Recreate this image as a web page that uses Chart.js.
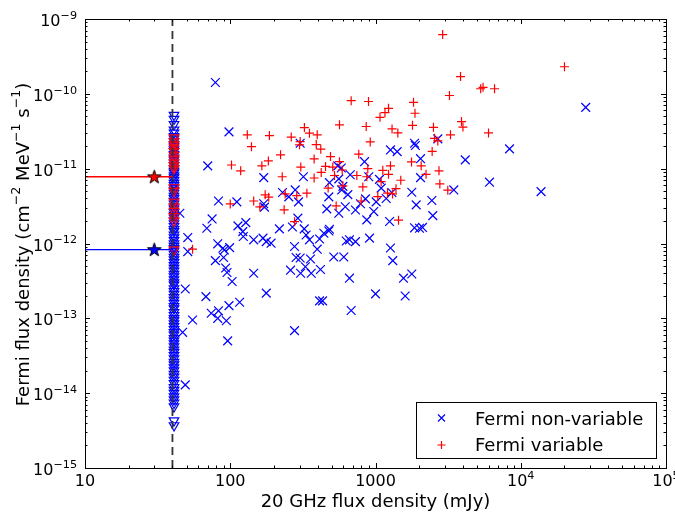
<!DOCTYPE html>
<html>
<head>
<meta charset="utf-8">
<script src="https://cdn.jsdelivr.net/npm/chart.js@4.4.0/dist/chart.umd.min.js"></script>
<style>
  html, body { margin: 0; padding: 0; background: #fff; }
</style>
</head>
<body>
<canvas id="chart" width="675" height="513"></canvas>
<script>
// --- AXES ---
const X_MIN = 10, X_MAX = 1e5;
const Y_MIN = 1e-15, Y_MAX = 1e-9;
const xTicks = [10, 100, 1000, 1e4, 1e5];
const xTickLabels = ['10', '100', '1000', '10^4', '10^5'];
const yTicks = [1e-15, 1e-14, 1e-13, 1e-12, 1e-11, 1e-10, 1e-9];
const yTickLabels = ['10^\u221215', '10^\u221214', '10^\u221213', '10^\u221212', '10^\u221211', '10^\u221210', '10^\u22129'];

// --- DATA ---
// Fermi non-variable sources (20 GHz flux in mJy, Fermi flux density)
const nonVarS = [79, 28000, 98, 70, 170, 83, 111, 170, 172, 45, 75, 128, 69, 113, 229, 218,
  303, 840, 550, 581, 319, 670, 899, 1065, 482, 559, 596, 585, 1094, 280, 253, 295, 477, 645,
  853, 1011, 1185, 462, 619, 559, 728, 788, 973, 292, 871, 323, 482, 268, 1250,
  1857, 1880, 1268, 1410, 2685, 4150, 2042, 2042, 6095, 3460, 1778, 1295, 1906, 2443, 2480,
  1857, 2009, 2107, 8370, 13800, 1268, 1315, 1559, 1778, 1601,
  51, 51, 122, 123, 82, 89, 91, 99, 90, 79, 93, 95, 103, 145, 145, 168, 177, 191,
  49, 68, 177, 116, 98, 74, 83, 82, 94, 55, 47, 96, 49,
  333, 351, 441, 477, 412, 629, 662, 728, 910, 277, 397, 284, 303, 357, 516, 605,
  329, 260, 305, 361, 418, 662, 1000, 412, 432, 680, 277];
const nonVarF = [1.42e-10, 6.6e-11, 3.1e-11, 1.09e-11, 7.6e-12, 3.7e-12, 3.6e-12, 3.4e-12, 3.06e-12, 2.54e-12, 2.13e-12, 1.9e-12, 1.6e-12, 1.72e-12, 4.8e-12, 1.57e-12,
  2.19e-11, 1.24e-11, 1.09e-11, 1.02e-11, 7.8e-12, 8.3e-12, 7.8e-12, 7.2e-12, 6.5e-12, 7.3e-12, 5.8e-12, 5.2e-12, 5.5e-12, 5.2e-12, 4.2e-12, 3.6e-12, 4.2e-12, 4.5e-12,
  3.95e-12, 3.6e-12, 4.0e-12, 2.9e-12, 3.1e-12, 2.54e-12, 2.8e-12, 3.4e-12, 2.67e-12, 2.18e-12, 2.07e-12, 1.57e-12, 1.55e-12, 1.66e-12, 1.97e-12,
  2.19e-11, 2.04e-11, 1.78e-11, 1.69e-11, 2.5e-11, 1.31e-11, 1.36e-11, 7.6e-12, 6.6e-12, 5.2e-12, 4.85e-12, 4.8e-12, 3.28e-12, 3.75e-12, 2.36e-12,
  1.62e-12, 1.6e-12, 1.64e-12, 1.84e-11, 4.94e-12, 8.7e-13, 5.9e-13, 3.44e-13, 3.92e-13, 1.99e-13,
  1.2e-12, 7.8e-13, 1.44e-12, 1.24e-12, 9.9e-13, 8.65e-13, 8.2e-13, 8.8e-13, 6.5e-13, 5.9e-13, 4.7e-13, 4.1e-13, 3.1e-13, 4.0e-13, 1.12e-12, 1.18e-12, 1.06e-12, 1.01e-12,
  2.47e-13, 1.95e-13, 2.17e-13, 1.64e-13, 1.48e-13, 1.17e-13, 1.26e-13, 1.0e-13, 9.3e-14, 9.5e-14, 6.5e-14, 5.0e-14, 1.29e-14,
  1.3e-12, 1.12e-12, 1.37e-12, 1.47e-12, 1.15e-12, 1.08e-12, 1.12e-12, 1.06e-12, 1.18e-12, 9.1e-13, 8.4e-13, 6.5e-13, 6.4e-13, 6.2e-13, 6.6e-13, 6.6e-13,
  4.9e-13, 4.4e-13, 4.0e-13, 4.0e-13, 4.5e-13, 3.44e-13, 2.12e-13, 1.71e-13, 1.71e-13, 1.27e-13, 6.85e-14];

// Fermi variable sources
const varS = [2900, 20000, 3850, 5300, 5500, 6600, 3230, 1827, 1229, 1162, 1074, 1870, 3910, 4000,
  1798, 1300, 1425, 2507, 3283, 6000, 2548, 2685, 2455, 1770, 2063, 1268, 1229, 2736, 2228,
  1493, 2773, 1384, 1210, 1310, 3146, 1440, 1123, 1094,
  680, 895, 565, 863, 324, 351, 397, 263, 303, 300, 391, 420, 920, 767, 490, 222, 378, 565,
  306, 453, 508, 590, 885, 423, 228, 378, 522, 744, 871, 596, 818, 472, 337, 239, 287, 1037,
  797, 536, 235, 277, 131, 186, 140, 102, 118, 165, 183, 174, 184, 145, 100, 160, 55];
const varF = [6.2e-10, 2.3e-10, 1.7e-10, 1.17e-10, 1.22e-10, 1.17e-10, 9.5e-11, 7.7e-11, 6.4e-11, 5.6e-11, 4.85e-11, 5.5e-11, 4.26e-11, 3.6e-11,
  3.8e-11, 3.4e-11, 3.0e-11, 3.57e-11, 2.83e-11, 3.0e-11, 2.54e-11, 2.35e-11, 1.7e-11, 1.23e-11, 1.09e-11, 1.09e-11, 8.4e-12, 9.35e-12, 8.4e-12,
  7.0e-12, 6.26e-12, 5.4e-12, 4.7e-12, 4.6e-12, 5.16e-12, 2.05e-12, 9.5e-12, 6.7e-12,
  8.1e-11, 7.9e-11, 3.85e-11, 3.66e-11, 3.54e-11, 2.98e-11, 2.83e-11, 2.64e-11, 2.3e-11, 2.08e-11, 2.1e-11, 1.82e-11, 2.28e-11, 1.56e-11, 1.45e-11, 1.53e-11, 1.35e-11, 1.24e-11,
  1.05e-11, 1.07e-11, 1.05e-11, 9.6e-12, 1.0e-11, 8.9e-12, 7.8e-12, 7.5e-12, 8.1e-12, 8.1e-12, 7.8e-12, 5.9e-12, 5.7e-12, 5.5e-12, 4.7e-12, 4.6e-12, 4.37e-12, 4.24e-12,
  3.7e-12, 3.18e-12, 2.82e-12, 1.96e-12, 2.83e-11, 2.77e-11, 1.97e-11, 1.12e-11, 9.35e-12, 1.09e-11, 1.27e-11, 4.47e-12, 4.16e-12, 3.7e-12, 3.38e-12, 3.08e-12, 8.4e-13];

// Sources below the 20 GHz cut: plotted as upper limits at the cut
const UL_S = 41;
const ulNonVarF = [5.2e-11, 4.6e-11, 3.9e-11, 3.3e-11, 3.0e-11, 2.7e-11, 2.5e-11, 2.3e-11, 2.1e-11, 2.0e-11,
  1.8e-11, 1.7e-11, 1.55e-11, 1.4e-11, 1.3e-11, 1.2e-11, 1.1e-11, 1.0e-11, 9.3e-12, 8.8e-12, 8.1e-12,
  7.6e-12, 7.0e-12, 6.4e-12, 6.0e-12, 5.5e-12, 5.1e-12, 4.7e-12, 4.3e-12, 4.0e-12, 3.7e-12, 3.4e-12,
  3.1e-12, 2.9e-12, 2.6e-12, 2.4e-12, 2.2e-12, 2.0e-12, 1.85e-12, 1.7e-12, 1.55e-12, 1.45e-12, 1.3e-12,
  1.2e-12, 1.1e-12, 1.0e-12, 9.2e-13, 8.6e-13, 7.9e-13, 7.2e-13, 6.6e-13, 6.1e-13, 5.6e-13, 5.1e-13,
  4.7e-13, 4.3e-13, 3.9e-13, 3.6e-13, 3.3e-13, 3.0e-13, 2.8e-13, 2.5e-13, 2.3e-13, 2.1e-13, 1.9e-13,
  1.75e-13, 1.6e-13, 1.45e-13, 1.35e-13, 1.2e-13, 1.1e-13, 1.0e-13, 9.3e-14, 8.5e-14, 7.8e-14, 7.1e-14,
  6.5e-14, 6.0e-14, 5.4e-14, 5.0e-14, 4.6e-14, 4.2e-14, 3.8e-14, 3.5e-14, 3.2e-14, 2.9e-14, 2.6e-14,
  2.4e-14, 2.2e-14, 2.0e-14, 1.8e-14, 1.65e-14, 1.5e-14, 1.35e-14, 1.2e-14, 1.1e-14, 1.0e-14, 9.0e-15,
  8.2e-15, 7.4e-15, 6.6e-15, 4.3e-15, 3.7e-15];
const ulVarF = [2.6e-11, 2.3e-11, 2.1e-11, 1.9e-11, 1.7e-11, 1.5e-11, 1.35e-11, 1.2e-11, 1.1e-11, 1.0e-11,
  5.6e-12, 5.0e-12, 3.6e-12, 3.1e-12, 2.7e-12, 2.3e-12, 2.0e-12, 8.3e-13];

// Stacked values for the sources below the cut
const CUT_S = 40;
const STACK_S = 30;
const stackVarF = 7.8e-12;
const stackNonVarF = 8.3e-13;

// --- HELPERS ---
const FONT = '"DejaVu Sans", sans-serif';
const pts = (xs, ys) => xs.map((v, i) => ({ x: v, y: ys[i] }));

function makeStar(fill) {
    const c = document.createElement('canvas');
    c.width = 17; c.height = 17;
    const g = c.getContext('2d');
    g.beginPath();
    for (let i = 0; i < 10; i++) {
        const r = i % 2 ? 2.8 : 7.2;
        const a = -Math.PI / 2 + i * Math.PI / 5;
        g.lineTo(8.5 + r * Math.cos(a), 9 + r * Math.sin(a));
    }
    g.closePath();
    g.fillStyle = fill;
    g.fill();
    g.strokeStyle = '#000';
    g.lineWidth = 1;
    g.stroke();
    return c;
}

function drawPow(ctx, label, x, y, align, size) {
    const parts = label.split('^');
    const sup = size * 0.7;
    ctx.font = size + 'px ' + FONT;
    const wb = ctx.measureText(parts[0]).width;
    let we = 0;
    if (parts[1]) { ctx.font = sup + 'px ' + FONT; we = ctx.measureText(parts[1]).width; }
    const x0 = align === 'right' ? x - wb - we : x - (wb + we) / 2;
    ctx.textAlign = 'left';
    ctx.textBaseline = 'alphabetic';
    ctx.font = size + 'px ' + FONT;
    ctx.fillText(parts[0], x0, y);
    if (parts[1]) {
        ctx.font = sup + 'px ' + FONT;
        ctx.fillText(parts[1], x0 + wb, y - size * 0.45);
    }
}

// text pieces: [string, isSuperscript]
function drawRich(ctx, pieces, cx, y, size) {
    const sup = size * 0.7;
    let total = 0;
    pieces.forEach(p => { ctx.font = (p[1] ? sup : size) + 'px ' + FONT; total += ctx.measureText(p[0]).width; });
    let x = cx - total / 2;
    ctx.textAlign = 'left';
    ctx.textBaseline = 'alphabetic';
    pieces.forEach(p => {
        ctx.font = (p[1] ? sup : size) + 'px ' + FONT;
        ctx.fillText(p[0], x, p[1] ? y - size * 0.45 : y);
        x += ctx.measureText(p[0]).width;
    });
}

// --- FRAME, TICKS, LABELS, LEGEND ---
const axesDecor = {
    id: 'axesDecor',
    afterDraw(chart) {
        const { ctx, chartArea: a, scales: { x, y } } = chart;
        ctx.save();
        ctx.strokeStyle = '#000';
        ctx.fillStyle = '#000';
        ctx.lineWidth = 1;
        ctx.strokeRect(a.left + 0.5, a.top + 0.5, a.right - a.left, a.bottom - a.top);

        const minor = ticks => {
            const out = [];
            ticks.slice(0, -1).forEach(t => { for (let k = 2; k <= 9; k++) out.push(t * k); });
            return out;
        };
        ctx.beginPath();
        const tickX = (v, len) => {
            const px = Math.round(x.getPixelForValue(v)) + 0.5;
            ctx.moveTo(px, a.bottom); ctx.lineTo(px, a.bottom - len);
            ctx.moveTo(px, a.top); ctx.lineTo(px, a.top + len);
        };
        const tickY = (v, len) => {
            const py = Math.round(y.getPixelForValue(v)) + 0.5;
            ctx.moveTo(a.left, py); ctx.lineTo(a.left + len, py);
            ctx.moveTo(a.right, py); ctx.lineTo(a.right - len, py);
        };
        xTicks.forEach(v => tickX(v, 5));
        minor(xTicks).forEach(v => tickX(v, 2.5));
        yTicks.forEach(v => tickY(v, 5));
        minor(yTicks).forEach(v => tickY(v, 2.5));
        ctx.stroke();

        xTicks.forEach((v, i) => drawPow(ctx, xTickLabels[i], x.getPixelForValue(v), a.bottom + 18, 'center', 16));
        yTicks.forEach((v, i) => drawPow(ctx, yTickLabels[i], a.left - 8, y.getPixelForValue(v) + 7, 'right', 16));

        // axis titles
        drawRich(ctx, [['20 GHz flux density (mJy)', false]], (a.left + a.right) / 2, 507, 18);
        ctx.save();
        ctx.translate(28.5, (a.top + a.bottom) / 2 + 1);
        ctx.rotate(-Math.PI / 2);
        drawRich(ctx, [['Fermi flux density (cm', false], ['\u22122', true], [' MeV', false], ['\u22121', true],
            [' s', false], ['\u22121', true], [')', false]], 0, 0, 18);
        ctx.restore();

        // legend
        const bx = 416.5, by = 402.5, bw = 240, bh = 56;
        ctx.fillStyle = '#fff';
        ctx.fillRect(bx, by, bw, bh);
        ctx.strokeRect(bx, by, bw, bh);
        ctx.lineWidth = 1.2;
        ctx.strokeStyle = '#0000ff';
        ctx.beginPath();
        ctx.moveTo(438, 414.5); ctx.lineTo(445, 421.5);
        ctx.moveTo(445, 414.5); ctx.lineTo(438, 421.5);
        ctx.stroke();
        ctx.strokeStyle = '#ff0000';
        ctx.beginPath();
        ctx.moveTo(437.5, 445); ctx.lineTo(445.5, 445);
        ctx.moveTo(441.5, 441); ctx.lineTo(441.5, 449);
        ctx.stroke();
        ctx.fillStyle = '#000';
        ctx.font = '18px ' + FONT;
        ctx.textAlign = 'left';
        ctx.textBaseline = 'alphabetic';
        ctx.fillText('Fermi non-variable', 475, 425);
        ctx.fillText('Fermi variable', 475, 451);
        ctx.restore();
    }
};

const logAxis = (min, max) => ({
    type: 'logarithmic', min: min, max: max,
    grid: { display: false, drawTicks: false },
    border: { display: false },
    ticks: { display: false },
    title: { display: false }
});

new Chart(document.getElementById('chart'), {
    type: 'scatter',
    data: {
        datasets: [
            { label: 'stackVar', data: [{ x: STACK_S, y: stackVarF }], pointStyle: makeStar('#ff0000'), pointRadius: 8, order: 1 },
            { label: 'stackNonVar', data: [{ x: STACK_S, y: stackNonVarF }], pointStyle: makeStar('#0000ff'), pointRadius: 8, order: 1 },
            { label: 'lineVar', type: 'line', data: [{ x: X_MIN, y: stackVarF }, { x: CUT_S, y: stackVarF }],
              borderColor: '#ff0000', borderWidth: 1.3, pointRadius: 0, showLine: true, order: 2 },
            { label: 'lineNonVar', type: 'line', data: [{ x: X_MIN, y: stackNonVarF }, { x: CUT_S, y: stackNonVarF }],
              borderColor: '#0000ff', borderWidth: 1.3, pointRadius: 0, showLine: true, order: 2 },
            { label: 'cut', type: 'line', data: [{ x: CUT_S, y: Y_MIN }, { x: CUT_S, y: Y_MAX }],
              borderColor: '#333333', borderWidth: 1.8, borderDash: [8, 5], pointRadius: 0, showLine: true, order: 3 },
            { label: 'ulVar', data: pts(ulVarF.map(() => UL_S), ulVarF), pointStyle: 'triangle', pointRotation: 180,
              pointRadius: 5.5, pointBorderColor: '#ff0000', pointBackgroundColor: 'rgba(0,0,0,0)', pointBorderWidth: 1.2, order: 4 },
            { label: 'ulNonVar', data: pts(ulNonVarF.map(() => UL_S), ulNonVarF), pointStyle: 'triangle', pointRotation: 180,
              pointRadius: 5.5, pointBorderColor: '#0000ff', pointBackgroundColor: 'rgba(0,0,0,0)', pointBorderWidth: 1.2, order: 5 },
            { label: 'Fermi variable', data: pts(varS, varF), pointStyle: 'cross', pointRadius: 4.5,
              pointBorderColor: '#ff0000', pointBackgroundColor: '#ff0000', pointBorderWidth: 1.2, order: 6 },
            { label: 'Fermi non-variable', data: pts(nonVarS, nonVarF), pointStyle: 'crossRot', pointRadius: 6.2,
              pointBorderColor: '#0000ff', pointBackgroundColor: '#0000ff', pointBorderWidth: 1.2, order: 7 }
        ]
    },
    options: {
        responsive: false,
        animation: false,
        events: [],
        layout: { padding: { left: 85, right: 9, top: 19, bottom: 45 } },
        scales: { x: logAxis(X_MIN, X_MAX), y: logAxis(Y_MIN, Y_MAX) },
        plugins: { legend: { display: false }, tooltip: { enabled: false } }
    },
    plugins: [axesDecor]
});
</script>
</body>
</html>
